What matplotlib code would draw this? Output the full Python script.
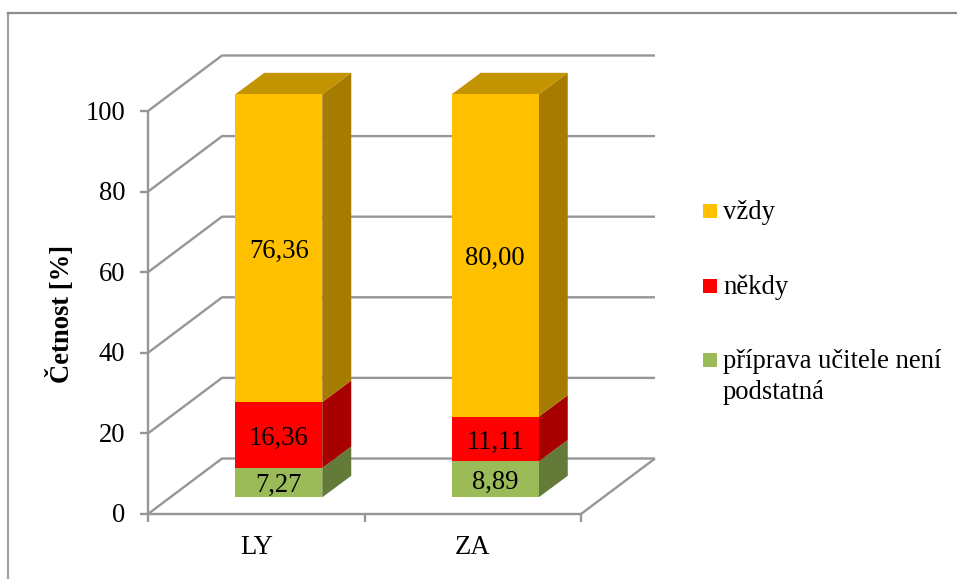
import numpy as np
import matplotlib
matplotlib.use("Agg")
import matplotlib.pyplot as plt
from matplotlib.patches import Polygon

plt.rcParams['font.family'] = ['Liberation Serif', 'DejaVu Serif']

categories = ['LY', 'ZA']
series_names = ['příprava učitele není\npodstatná', 'někdy', 'vždy']
priprava_values = [7.27, 8.89]
nekdy_values = [16.36, 11.11]
vzdy_values = [76.36, 80.00]
y_ticks = [0, 20, 40, 60, 80, 100]

W, H = 957, 579
grey = '#969696'
front_cols = ['#9BBB59', '#FF0000', '#FFC000']
side_cols = ['#647A39', '#A60000', '#A67C00']
top_col = '#C49400'
fs = 19.2

# pixel geometry of the fake 3d box
x0_px, y0_px = 148, 514
px_per_unit = 4.03
cat_px = 216.5
wall_dx, wall_dy = 74, 55.5
bar_shift_x, bar_shift_y = 22.5, 16.7
depth_x, depth_y = 29, 21.5
bar_width = 87 / cat_px

fig = plt.figure(figsize=(W / 100, H / 100), dpi=100)
ax = fig.add_axes([0, 0, 1, 1])
# data units: x = category index, y = percent (axis plane)
ax.set_xlim(-x0_px / cat_px - 0.5, (W - x0_px) / cat_px - 0.5)
ax.set_ylim(-(H - y0_px) / px_per_unit, y0_px / px_per_unit)
ax.axis('off')


def px_x(p):
    return (p - x0_px) / cat_px - 0.5


def px_y(p):
    return (y0_px - p) / px_per_unit


dx = wall_dx / cat_px
dy = wall_dy / px_per_unit
bx = bar_shift_x / cat_px
by = bar_shift_y / px_per_unit
sx = depth_x / cat_px
sy = depth_y / px_per_unit
n = len(categories)
lw = 1.7


def line(xs, ys):
    ax.plot(xs, ys, color=grey, lw=lw, zorder=1, solid_capstyle='butt')


# outer frame, only top and left are in the picture
ax.plot([px_x(8), px_x(8)], [px_y(H), px_y(13)], color='#A0A0A0', lw=1.6, zorder=1)
ax.plot([px_x(8), px_x(W)], [px_y(13), px_y(13)], color='#8C8C8C', lw=1.6, zorder=1)

# walls and floor
for t in y_ticks:
    line([-0.5, -0.5 + dx, n - 0.5 + dx], [t, t + dy, t + dy])
    line([-0.5 - 8 / cat_px, -0.5], [t, t])
line([-0.5, -0.5], [0, 100])
line([-0.5, n - 0.5], [0, 0])
line([n - 0.5, n - 0.5 + dx], [0, dy])
for i in range(n + 1):
    line([i - 0.5, i - 0.5], [0, -8 / px_per_unit])

# stacked bars, bottom to top
stacks = [priprava_values, nekdy_values, vzdy_values]
bottoms = np.zeros(n)
for vals, fc, sc in zip(stacks, front_cols, side_cols):
    vals = np.array(vals)
    for i in range(n):
        center = i + bx
        right = center + bar_width / 2
        b = bottoms[i] + by
        t = b + vals[i]
        side = [(right, b), (right + sx, b + sy), (right + sx, t + sy), (right, t)]
        ax.add_patch(Polygon(side, closed=True, facecolor=sc, edgecolor='none', zorder=3))
        ax.bar(center, vals[i], width=bar_width, bottom=b, color=fc, edgecolor='none', zorder=4)
        ax.text(center, (b + t) / 2 - 9.5 / px_per_unit, f'{vals[i]:.2f}'.replace('.', ','),
                ha='center', va='baseline', fontsize=fs, color='black', zorder=5)
    bottoms = bottoms + vals

# top cap of the bars
for i in range(n):
    left = i + bx - bar_width / 2
    right = left + bar_width
    t = bottoms[i] + by
    ax.add_patch(Polygon([(left, t), (right, t), (right + sx, t + sy), (left + sx, t + sy)],
                         closed=True, facecolor=top_col, edgecolor='none', zorder=3))

# axis texts
for t in y_ticks:
    ax.text(px_x(125), t - 8.5 / px_per_unit, str(t), ha='right', va='baseline', fontsize=fs)
for i, c in enumerate(categories):
    ax.text(i, px_y(554), c, ha='center', va='baseline', fontsize=fs)
ax.text(px_x(61), px_y(314), 'Četnost [%]', rotation=90,
        ha='center', va='center', fontsize=fs, fontweight='bold')

# legend, top entry is the last series
legend_y = [211, 286, 360]
for name, fc, py in zip(series_names[::-1], front_cols[::-1], legend_y):
    ax.add_patch(plt.Rectangle((px_x(703), px_y(py + 7)), 14 / cat_px, 14 / px_per_unit,
                               facecolor=fc, edgecolor='none'))
    for k, part in enumerate(name.split('\n')):
        ax.text(px_x(723), px_y(py + 8 + 31 * k), part, ha='left', va='baseline', fontsize=fs)

fig.savefig('out.png', dpi=100)
